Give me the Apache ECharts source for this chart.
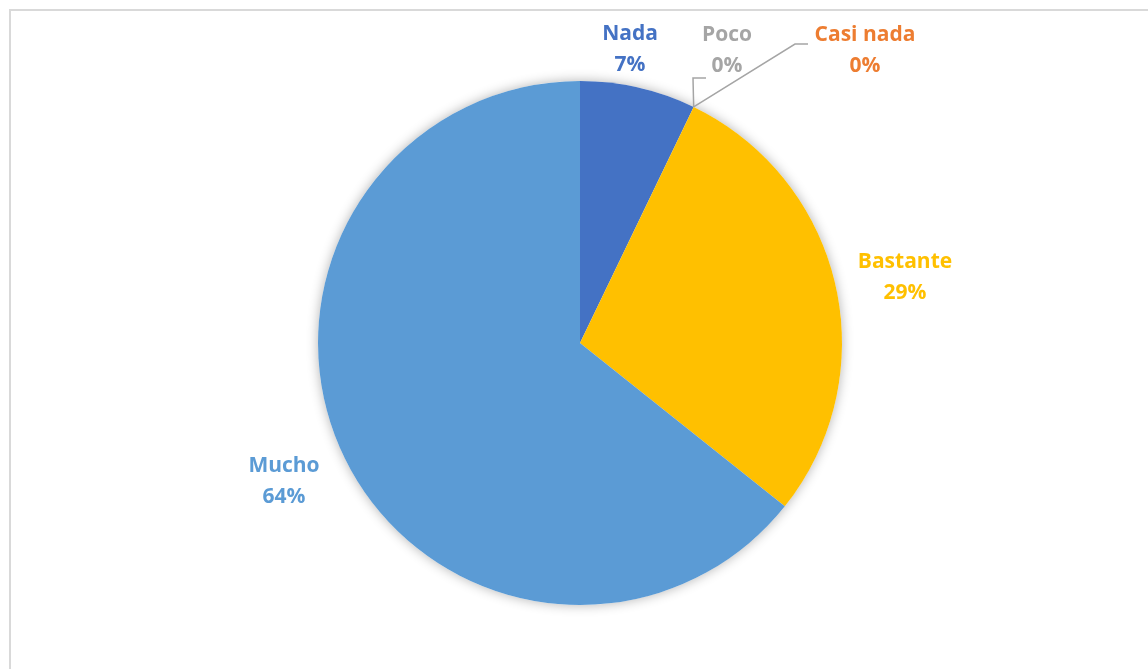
<!DOCTYPE html>
<html>
<head>
<meta charset="utf-8">
<script src="https://cdn.jsdelivr.net/npm/echarts@6/dist/echarts.min.js"></script>
<style>
    html, body { margin: 0; padding: 0; background: #fff; }
    #chart { width: 1148px; height: 669px; }
</style>
</head>
<body>
<div id="chart"></div>
<script>
// categorías y valores (respuestas)
const categories = ['Nada', 'Poco', 'Casi nada', 'Bastante', 'Mucho'];
const counts = [2, 0, 0, 8, 18];
const colors = ['#4472C4', '#A5A5A5', '#ED7D31', '#FFC000', '#5B9BD5'];

// posición de las etiquetas (centro del bloque de texto)
const labelSpots = {
    'Nada': [630, 50],
    'Poco': [727, 51],
    'Casi nada': [865, 51],
    'Bastante': [905, 278],
    'Mucho': [284, 482]
};
// puntos de quiebre de las líneas guía
const leaderBends = {
    'Poco': [[693, 78], [706, 78]],
    'Casi nada': [[795, 44], [808, 44]]
};

const chart = echarts.init(document.getElementById('chart'));

const pieData = categories.map((name, i) => ({
    name: name,
    value: counts[i],
    itemStyle: { color: colors[i] },
    label: { color: colors[i] },
    labelLine: { show: !!leaderBends[name] }
}));

const total = counts.reduce((a, b) => a + b, 0);

const option = {
    animation: false,
    graphic: [{
        type: 'rect',
        shape: { x: 10, y: 10, width: 1200, height: 700 },
        style: { fill: 'none', stroke: '#d9d9d9', lineWidth: 2 },
        silent: true
    }],
    series: [{
        // sombra suave detrás del pastel
        type: 'pie',
        z: 1,
        silent: true,
        center: [580, 343],
        radius: 262,
        label: { show: false },
        labelLine: { show: false },
        itemStyle: {
            color: '#ffffff',
            shadowBlur: 12,
            shadowColor: 'rgba(0, 0, 0, 0.3)'
        },
        data: [{ name: 'total', value: total }]
    }, {
        type: 'pie',
        z: 2,
        center: [580, 343],
        radius: 262,
        startAngle: 90,
        clockwise: true,
        percentPrecision: 0,
        avoidLabelOverlap: false,
        stillShowZeroSum: true,
        itemStyle: { borderWidth: 0 },
        label: {
            show: true,
            position: 'outside',
            formatter: '{b}\n{d}%',
            fontFamily: '"Open Sans", Lato, sans-serif',
            fontWeight: 'bold',
            fontSize: 21,
            lineHeight: 31,
            align: 'center'
        },
        labelLine: {
            show: true,
            length: 10,
            length2: 10,
            lineStyle: { color: '#A5A5A5', width: 1.5 }
        },
        emphasis: { disabled: true },
        labelLayout: function (params) {
            const name = categories[params.dataIndex];
            const spot = labelSpots[name];
            const res = {
                x: spot[0],
                y: spot[1],
                align: 'center',
                verticalAlign: 'middle'
            };
            if (leaderBends[name] && params.labelLinePoints) {
                const start = params.labelLinePoints[0];
                res.labelLinePoints = [start].concat(leaderBends[name]);
            }
            return res;
        },
        data: pieData
    }]
};

chart.setOption(option);
</script>
</body>
</html>
